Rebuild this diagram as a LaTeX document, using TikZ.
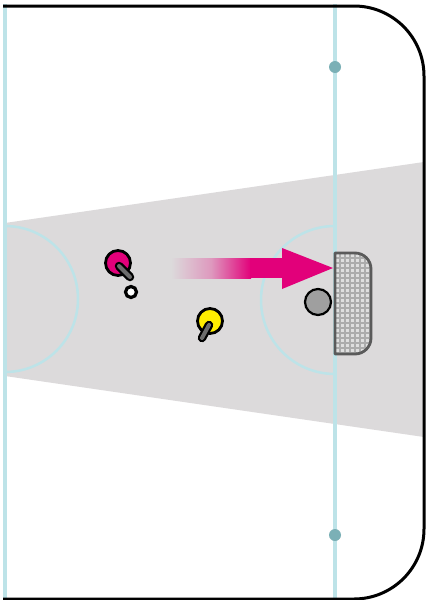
\documentclass[tikz,border=0pt]{standalone}
\usetikzlibrary{shapes.geometric}
\definecolor{icebg}{HTML}{DCDADB}
\definecolor{lineblue}{HTML}{BDE3E8}
\definecolor{dotteal}{HTML}{7BB0B6}
\definecolor{magentaP}{HTML}{E2007A}
\definecolor{yellowP}{HTML}{FFED00}
\definecolor{goalgrey}{HTML}{5A5A5A}
\begin{document}
\begin{tikzpicture}[x=1pt,y=-1pt,
  bluel/.style={draw=lineblue,line width=3.5pt},
  spot/.style={circle,fill=dotteal,inner sep=0pt,minimum size=12pt},
  player/.style={circle,draw=black,line width=2.8pt,inner sep=0pt,minimum size=25pt},
  stickout/.style={line width=8.5pt,line cap=round,black},
  stickin/.style={line width=4pt,line cap=round,draw=gray!85!black},
  ring/.style={circle,draw=black,fill=white,line width=3.2pt,inner sep=0pt,minimum size=11pt},
  ballst/.style={circle,draw=black,fill=gray!75,line width=2.2pt,inner sep=0pt,minimum size=26pt}]
\useasboundingbox (0,0) rectangle (426,600);
\fill[white] (0,0) rectangle (426,600);
% shaded zone
\fill[icebg] (5,223) -- (424,162) -- (424,437) -- (5,376) -- cycle;
% lines
\draw[bluel] (5,4) -- (5,600);
\draw[bluel] (335,4) -- (335,600);
\draw[draw=lineblue,line width=2.5pt] (5,226) arc[start angle=-90,end angle=90,radius=73];
\draw[draw=lineblue,line width=2.5pt] (335,226) arc[start angle=270,end angle=90,radius=74];
\node[spot] (s1) at (335,67) {};
\node[spot] (s2) at (335,535) {};
% goal
\begin{scope}
\clip (335,253) -- (355,253) arc[start angle=-90,end angle=0,radius=16] -- (371,338) arc[start angle=0,end angle=90,radius=16] -- (335,354) -- cycle;
\fill[gray!25] (330,245) rectangle (380,360);
\foreach \i in {0,...,10} {\draw[gray!65,line width=2pt] (335+5*\i,245) -- (335+5*\i,360);}
\foreach \j in {0,...,22} {\draw[gray!65,line width=2.8pt] (330,253+5*\j) -- (380,253+5*\j);}
\end{scope}
\draw[goalgrey,line width=2.8pt,line join=round] (335,253) -- (355,253) arc[start angle=-90,end angle=0,radius=16] -- (371,338) arc[start angle=0,end angle=90,radius=16] -- (335,354) -- cycle;
% ball
\node[ballst] (ball) at (318,302) {};
% arrow
\shade[left color=icebg,right color=magentaP,middle color=magentaP!30!icebg] (171,258) rectangle (251,278);
\fill[magentaP] (250,258) rectangle (283,278);
\fill[magentaP] (282,248) -- (333,268) -- (282,289) -- cycle;
% players
\node[player,fill=magentaP] (pm) at (118,263) {};
\draw[stickout] (119,266) -- (130,277);
\draw[stickin] (119,266) -- (130,277);
\node[ring] (r) at (131,292) {};
\node[player,fill=yellowP] (py) at (210,321) {};
\draw[stickout] (209,325) -- (202,338);
\draw[stickin] (209,325) -- (202,338);
% boards
\draw[black,line width=3pt] (3,6) -- (354,6) arc[start angle=-90,end angle=0,radius=70] -- (424,529) arc[start angle=0,end angle=90,radius=70] -- (3,599);
\end{tikzpicture}
\end{document}
